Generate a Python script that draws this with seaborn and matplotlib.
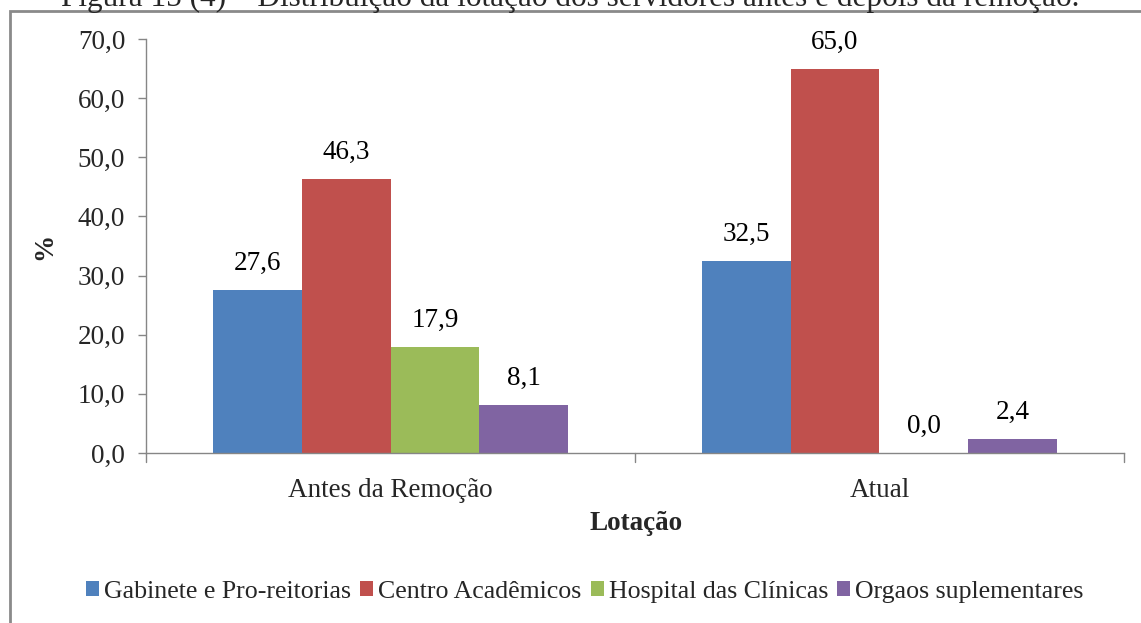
import matplotlib
matplotlib.use("Agg")
import matplotlib.pyplot as plt
import seaborn as sns
import pandas as pd
from matplotlib.patches import Rectangle, Patch

categories = ["Antes da Remoção", "Atual"]
series = ["Gabinete e Pro-reitorias", "Centro Acadêmicos", "Hospital das Clínicas", "Orgaos suplementares"]
gabinete = [27.6, 32.5]
centro = [46.3, 65.0]
hospital = [17.9, 0.0]
orgaos = [8.1, 2.4]
yticks = [0, 10, 20, 30, 40, 50, 60, 70]
colors = ["#4F81BD", "#C0504D", "#9BBB59", "#8064A2"]

rows = []
for s, vals in zip(series, [gabinete, centro, hospital, orgaos]):
    for c, v in zip(categories, vals):
        rows.append({"Lotação": c, "Série": s, "valor": v})
df = pd.DataFrame(rows)

sns.set_theme(style="white")
plt.rcParams['font.family'] = ['Liberation Serif', 'DejaVu Serif']

FS = 19.5

fig = plt.figure(figsize=(11.41, 6.23), dpi=100)
ax = fig.add_axes([146/1141, 1-453/623, (1124-146)/1141, (453-39)/623])

sns.barplot(data=df, x="Lotação", y="valor", hue="Série", hue_order=series,
            palette=colors, width=0.728, saturation=1, ax=ax, legend=False,
            edgecolor="none", linewidth=0)

for cont in ax.containers:
    ax.bar_label(cont, labels=[f"{v:.1f}".replace(".", ",") for v in cont.datavalues],
                 padding=10, fontsize=FS, color="black")

ax.set_ylim(0, 70)
ax.set_xlim(-0.5, 1.5)
ax.set_yticks(yticks)
ax.set_yticklabels([f"{t:.1f}".replace(".", ",") for t in yticks], fontsize=FS)
ax.set_xticks([0, 1])
ax.set_xticklabels(categories, fontsize=FS)
ax.tick_params(axis="x", length=0, pad=18)
ax.tick_params(axis="y", length=6, width=1, color="#868686", direction="out", pad=9, left=True)
# group separator ticks on x axis
for xp in [-0.5, 0.5, 1.5]:
    ax.plot([xp, xp], [0, -1.5], color="#868686", lw=1, clip_on=False)

for side in ["top", "right"]:
    ax.spines[side].set_visible(False)
for side in ["left", "bottom"]:
    ax.spines[side].set_color("#868686")
    ax.spines[side].set_linewidth(1)

ax.set_xlabel("Lotação", fontsize=FS, fontweight="bold")
ax.xaxis.set_label_coords((636-146)/(1124-146), -(511-453)/(453-39))
ax.set_ylabel("%", fontsize=FS, fontweight="bold")
ax.yaxis.set_label_coords(-(146-57)/(1124-146), 0.5)

handles = [Patch(facecolor=c, edgecolor="none") for c in colors]
fig.legend(handles, series, loc="center", bbox_to_anchor=(585/1141, 1-592/623),
           ncol=4, frameon=False, fontsize=18.6, handlelength=0.5, handleheight=0.5,
           handletextpad=0.2, columnspacing=0.35, borderpad=0)

# outer frame of the chart area
fig.patches.append(Rectangle((10/1141, -0.1), 1.2, 1 - 11/623 + 0.1, transform=fig.transFigure,
                             fill=False, edgecolor="#8a8a8a", linewidth=2))

fig.text(570/1141, 1 - 6/623, "Figura 15 (4) – Distribuição da lotação dos servidores antes e depois da remoção.",
         ha="center", va="baseline", fontsize=22.5)

fig.savefig("out.png", dpi=100)
